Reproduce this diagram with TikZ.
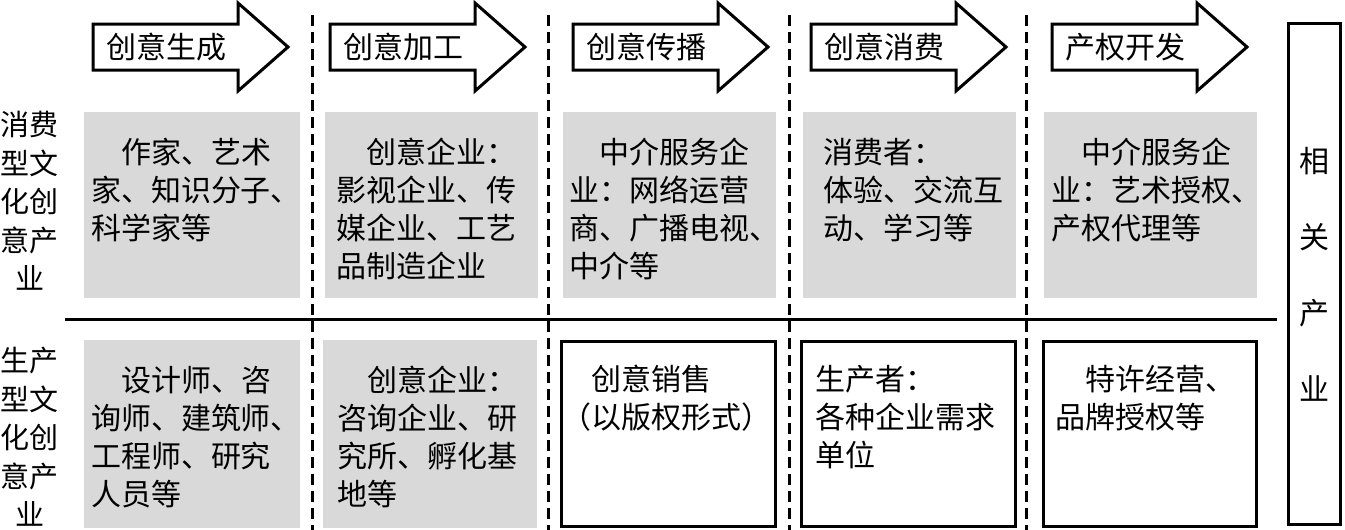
\documentclass[tikz,border=0pt]{standalone}
\usepackage{fontspec}
\newfontfamily\cjk{Noto Sans CJK SC}
\usepackage{tikz}
\usetikzlibrary{positioning,calc}
\definecolor{cellgray}{HTML}{D9D9D9}
\newcommand{\stagearrow}[3]{%
  \draw[stagearr] (#1,24) -- (#1+145,24) -- (#1+145,3) -- (#1+195,47) -- (#1+145,91) -- (#1+145,70) -- (#1,70) -- cycle;
  \node[stagelabel] (#2) at (#1+13,47) {#3};}
\tikzset{
  cell/.style={rectangle, fill=#1, minimum width=213pt, minimum height=186pt, inner sep=0pt},
  cell/.default={cellgray},
  framecell/.style={rectangle, draw=black, line width=3pt, fill=white, minimum width=214pt,
              minimum height=185pt, inner sep=0pt},
  txt/.style={font=\cjk\fontsize{30}{38}\selectfont, align=left, inner sep=0pt, anchor=north west},
  sidetxt/.style={font=\cjk\fontsize{29}{38.5}\selectfont, align=center, inner sep=0pt},
  stagearr/.style={draw=black, line width=3pt, fill=white, line join=miter},
  stagelabel/.style={font=\cjk\fontsize{30}{36}\selectfont, anchor=west, inner sep=0pt},
  sep/.style={line width=3pt, dash pattern=on 11pt off 6pt},
  divide/.style={line width=3pt},
}

\begin{document}
\begin{tikzpicture}[x=1pt,y=-1pt]
\useasboundingbox (0,0) rectangle (1345,530);
% stages
\stagearrow{93}{s1}{创意生成}
\stagearrow{330}{s2}{创意加工}
\stagearrow{573}{s3}{创意传播}
\stagearrow{811}{s4}{创意消费}
\stagearrow{1052}{s5}{产权开发}
% separators
\draw[sep] (312,15) -- (312,530);
\draw[sep] (548,15) -- (548,530);
\draw[sep] (789,15) -- (789,530);
\draw[sep] (1026,15) -- (1026,530);
\draw[divide] (65,319) -- (1277,319);
% consumer row
\node[cell, minimum width=216pt] (c1) at (192,205) {};
\node[cell] (c2) at (431,205) {};
\node[cell] (c3) at (669.5,205) {};
\node[cell] (c4) at (909,205) {};
\node[cell] (c5) at (1150.5,205) {};
\node[txt] (c1t) at ($(c1.north west)+(7,26)$) {\hspace*{1em}作家、艺术\\家、知识分子、\\科学家等};
\node[txt] (c2t) at ($(c2.north west)+(12,26)$) {\hspace*{1em}创意企业：\\影视企业、传\\媒企业、工艺\\品制造企业};
\node[txt] (c3t) at ($(c3.north west)+(6,26)$) {\hspace*{1em}中介服务企\\业：网络运营\\商、广播电视、\\中介等};
\node[txt] (c4t) at ($(c4.north west)+(21,26)$) {消费者：\\体验、交流互\\动、学习等};
\node[txt] (c5t) at ($(c5.north west)+(7,26)$) {\hspace*{1em}中介服务企\\业：艺术授权、\\产权代理等};
% producer row
\node[cell, minimum width=216pt, minimum height=188pt] (p1) at (192,434) {};
\node[cell, minimum width=214pt, minimum height=188pt] (p2) at (430,434) {};
\node[framecell] (p3) at (668.5,434) {};
\node[framecell] (p4) at (908.5,434) {};
\node[framecell, minimum width=213pt] (p5) at (1150,434) {};
\node[txt] (p1t) at ($(p1.north west)+(7,26)$) {\hspace*{1em}设计师、咨\\询师、建筑师、\\工程师、研究\\人员等};
\node[txt] (p2t) at ($(p2.north west)+(14,26)$) {\hspace*{1em}创意企业：\\咨询企业、研\\究所、孵化基\\地等};
\node[txt] (p3t) at ($(p3.north west)+(1,25)$) {\hspace*{1em}创意销售\\（以版权形式）};
\node[txt] (p4t) at ($(p4.north west)+(15,25)$) {生产者：\\各种企业需求\\单位};
\node[txt] (p5t) at ($(p5.north west)+(13,25)$) {\hspace*{1em}特许经营、\\品牌授权等};
% side labels
\node[sidetxt] (lc) at (30,201) {消费\\型文\\化创\\意产\\业};
\node[sidetxt] (lp) at (30,437) {生产\\型文\\化创\\意产\\业};
\node[rectangle, draw=black, line width=3pt, minimum width=52pt, minimum height=501pt,
      inner sep=0pt] (rel) at (1314.5,274) {};
\node[font=\cjk\fontsize{30}{76}\selectfont, align=center, inner sep=0pt] (relt) at (rel.center) {相\\关\\产\\业};
\end{tikzpicture}
\end{document}
